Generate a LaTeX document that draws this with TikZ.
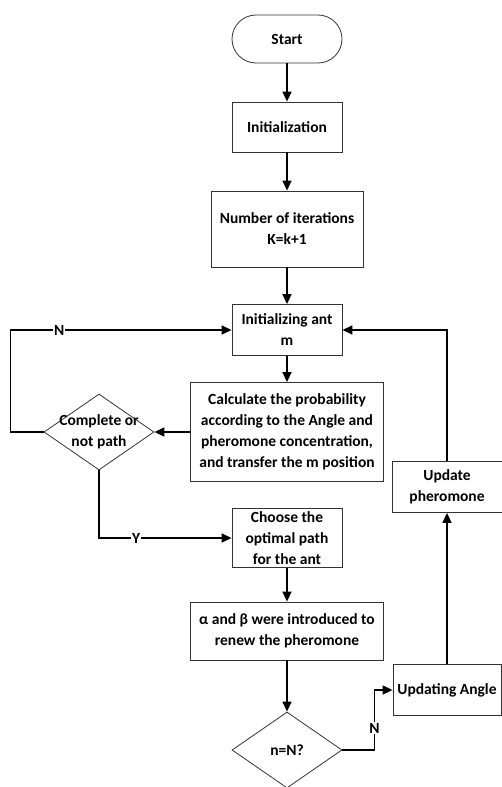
\documentclass[tikz,border=0pt]{standalone}
\usepackage{fontspec}
\setmainfont{Carlito}
\usetikzlibrary{arrows.meta,positioning,shapes.geometric}

\begin{document}
\begin{tikzpicture}[x=1pt,y=1pt,>={Triangle[length=10pt,width=9pt]},node distance=100pt,on grid,
  font=\fontsize{15.5}{21}\selectfont\bfseries,
  proc/.style={draw=black!80,line width=0.8pt,fill=white,align=center,minimum width=110pt,minimum height=51pt},
  term/.style={proc,rounded corners=24pt,minimum height=48pt},
  dec/.style={draw=black!80,line width=0.8pt,diamond,aspect=1.45,inner sep=0pt,minimum width=110pt,minimum height=76pt,align=center},
  link/.style={->,line width=1.4pt},
  lbl/.style={fill=white,inner sep=1pt}]

  \useasboundingbox (0,0) rectangle (502,-787);

  % main column
  \node[term]                      (start)  at (287,-39)            {Start};
  \node[proc,minimum height=50pt]  (init)   [below=88pt of start]   {Initialization};
  \node[proc,minimum width=152pt,minimum height=76pt]
                                   (iter)   [below=102pt of init]   {Number of iterations\\K=k+1};
  \node[proc]                      (ant)    [below=101pt of iter]   {Initializing ant\\m};
  \node[proc,minimum width=193pt,minimum height=99pt]
                                   (calc)   [below=102pt of ant]    {Calculate the probability\\according to the Angle and\\pheromone concentration,\\and transfer the m position};
  \node[dec]                       (comp)   [left=188pt of calc]    {};
  \node[align=center,inner sep=0pt] (comptxt) at (comp)             {Complete or\\not path};
  \node[proc,minimum height=58pt]  (choose) [below=106pt of calc]   {Choose the\\optimal path\\for the ant};
  \node[proc,minimum width=193pt,minimum height=58pt]
                                   (renew)  [below=93pt of choose]  {α and β were introduced to\\renew the pheromone};
  \node[dec]                       (check)  [below=119pt of renew]  {n=N?};

  % right column
  \node[proc,minimum width=108pt]  (angle)  [above right=60pt and 160pt of check] {Updating Angle};
  \node[proc]                      (updph)  [above=203pt of angle]  {Update\\pheromone};

  \draw[link] (start)  -- (init);
  \draw[link] (init)   -- (iter);
  \draw[link] (iter)   -- (ant);
  \draw[link] (ant)    -- (calc);
  \draw[link] (calc)   -- (comp);
  \draw[link] (comp.west) -- ++(-33,0) |- node[lbl,pos=0.61] {N} (ant.west);
  \draw[link] (comp.south) |- node[lbl,pos=0.64] {Y} (choose.west);
  \draw[link] (choose) -- (renew);
  \draw[link] (renew)  -- (check);
  \draw[link] (check.east) -- ++(32,0) |- node[lbl,pos=0.18] {N} (angle.west);
  \draw[link] (angle)  -- (updph);
  \draw[link] (updph.north) |- (ant.east);
\end{tikzpicture}
\end{document}
